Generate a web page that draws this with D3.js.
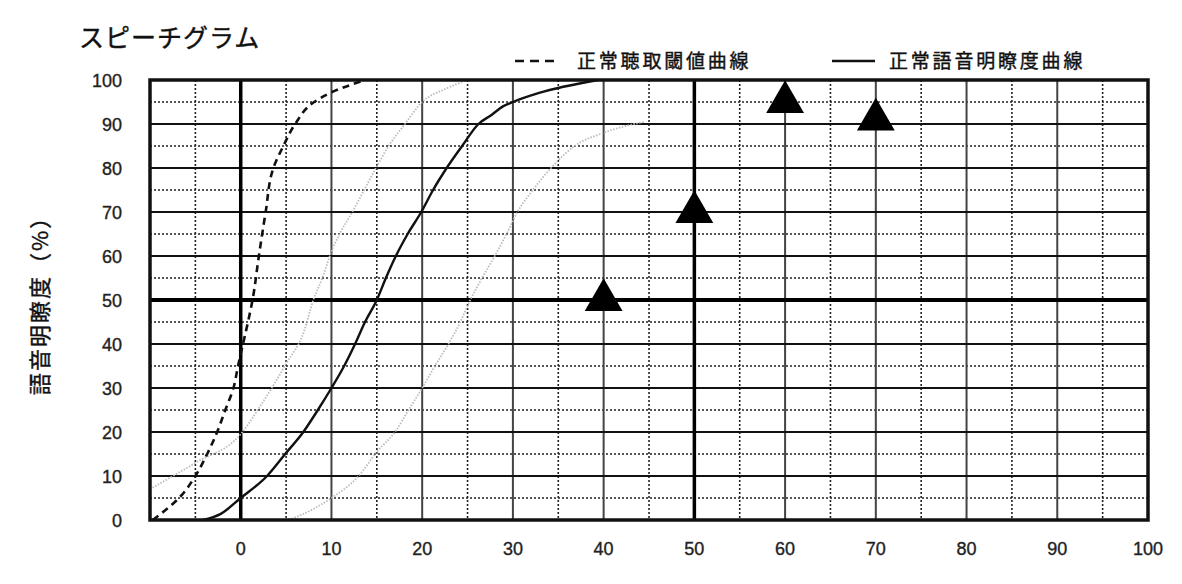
<!DOCTYPE html>
<html>
<head>
<meta charset="utf-8">
<script src="https://cdn.jsdelivr.net/npm/d3@7"></script>
<style>
  body { margin: 0; background: #fff; }
  svg { display: block; }
  .tick-label { font-family: "Liberation Sans", Arial, sans-serif; font-size: 18px; fill: #222; stroke: #222; stroke-width: 0.35px; }
  .jp { font-family: "Noto Sans CJK JP", sans-serif; fill: #111; stroke: #111; stroke-width: 0.4px; }
</style>
</head>
<body>
<div id="chart"></div>
<script>
// data
const xTicks = [0, 10, 20, 30, 40, 50, 60, 70, 80, 90, 100];
const yTicks = [0, 10, 20, 30, 40, 50, 60, 70, 80, 90, 100];
const seriesNames = ["正常聴取閾値曲線", "正常語音明瞭度曲線"];

// dashed: normal hearing threshold curve
const thresholdX = [-9.7, -6.8, -5, -3.7, -2.6, -1.7, -0.8, -0.3, 0.25, 0.8, 1.3, 2.0, 2.75, 3.6, 4.7, 6.0, 8.1, 10, 13.7];
const thresholdY = [0, 5, 10, 15, 20, 25, 30, 35, 40, 45, 50, 60, 70, 80, 85, 90, 95, 97.2, 100];

// solid: normal speech discrimination curve
const normalX = [-4.2, -2.2, 0, 2.9, 4.9, 6.9, 8.5, 10, 11.4, 12.6, 13.7, 15, 16, 17.1, 18.4, 19.9, 21.2, 22.7, 24.4, 26.2, 27.6, 28.9, 30, 32.8, 39.4];
const normalY = [0, 1.4, 5, 10, 15, 20, 25, 30, 35, 40, 45, 50, 55, 60, 65, 70, 75, 80, 85, 90, 92, 94, 95, 97, 100];

// light gray dotted curves
const grayAX = [-10, -5, 0, 2.5, 5, 7, 8, 9, 10, 10.9, 12.3, 13.6, 14.9, 16.3, 18.1, 20, 22.6, 25];
const grayAY = [7, 13, 19.5, 27, 35.5, 43, 50, 55, 61, 65, 70, 75, 80, 85, 90, 95, 98, 100];
const grayBX = [5.3, 8, 10, 13, 15, 17, 18.5, 20, 21.4, 22.9, 24.2, 25.3, 26.6, 28, 29.3, 30.5, 32.2, 34.2, 36.8, 40, 44.5];
const grayBY = [0, 2.5, 5, 10, 15.5, 20, 25, 30, 35, 40, 45, 50, 55, 60, 65, 70, 75, 80, 85, 88, 90.5];

// measured results (triangles)
const resultX = [40, 50, 60, 70];
const resultY = [50, 70, 95, 91];

const width = 1182, height = 584;
const m = { left: 150, right: 1148, top: 80, bottom: 520 };

const svg = d3.select("#chart").append("svg")
  .attr("width", width)
  .attr("height", height);

const x = d3.scaleLinear().domain([-10, 100]).range([m.left, m.right]);
const y = d3.scaleLinear().domain([0, 100]).range([m.bottom, m.top]);

// grid
const minor = d3.range(-5, 100, 10);
const minorY = d3.range(5, 100, 10);
const grid = svg.append("g");

grid.selectAll(".vminor").data(minor).enter().append("line")
  .attr("x1", d => x(d)).attr("x2", d => x(d))
  .attr("y1", y(100)).attr("y2", y(0))
  .attr("stroke", "#222").attr("stroke-width", 1.6).attr("stroke-dasharray", "2,2");
grid.selectAll(".hminor").data(minorY).enter().append("line")
  .attr("x1", x(-10)).attr("x2", x(100))
  .attr("y1", d => y(d)).attr("y2", d => y(d))
  .attr("stroke", "#222").attr("stroke-width", 1.6).attr("stroke-dasharray", "2,2");

grid.selectAll(".vmajor").data(xTicks.filter(d => d > 0 && d < 100 && d != 50)).enter().append("line")
  .attr("x1", d => x(d)).attr("x2", d => x(d))
  .attr("y1", y(100)).attr("y2", y(0))
  .attr("stroke", "#444").attr("stroke-width", 2);
grid.selectAll(".hmajor").data(yTicks.filter(d => d > 0 && d < 100 && d != 50)).enter().append("line")
  .attr("x1", x(-10)).attr("x2", x(100))
  .attr("y1", d => y(d)).attr("y2", d => y(d))
  .attr("stroke", "#111").attr("stroke-width", 2);

// heavy reference lines at 0 dB, 50 dB and 50 %
grid.selectAll(".vthick").data([0, 50]).enter().append("line")
  .attr("x1", d => x(d)).attr("x2", d => x(d))
  .attr("y1", y(100)).attr("y2", y(0))
  .attr("stroke", "#000").attr("stroke-width", 3.5);
grid.append("line")
  .attr("x1", x(-10)).attr("x2", x(100))
  .attr("y1", y(50)).attr("y2", y(50))
  .attr("stroke", "#000").attr("stroke-width", 4);

// curves
const line = d3.line()
  .x(d => x(d[0]))
  .y(d => y(d[1]))
  .curve(d3.curveMonotoneY);
const lineX = d3.line()
  .x(d => x(d[0]))
  .y(d => y(d[1]))
  .curve(d3.curveMonotoneX);

svg.append("path")
  .datum(d3.zip(grayAX, grayAY))
  .attr("d", lineX)
  .attr("fill", "none").attr("stroke", "#bbb").attr("stroke-width", 1.8).attr("stroke-dasharray", "1.5,1.5");
svg.append("path")
  .datum(d3.zip(grayBX, grayBY))
  .attr("d", lineX)
  .attr("fill", "none").attr("stroke", "#bbb").attr("stroke-width", 1.8).attr("stroke-dasharray", "1.5,1.5");

svg.append("path")
  .datum(d3.zip(thresholdX, thresholdY))
  .attr("d", line)
  .attr("fill", "none").attr("stroke", "#111").attr("stroke-width", 2.6).attr("stroke-dasharray", "7,5");
svg.append("path")
  .datum(d3.zip(normalX, normalY))
  .attr("d", lineX)
  .attr("fill", "none").attr("stroke", "#111").attr("stroke-width", 2.4);

// outer frame
svg.append("rect")
  .attr("x", x(-10)).attr("y", y(100))
  .attr("width", x(100) - x(-10)).attr("height", y(0) - y(100))
  .attr("fill", "none").attr("stroke", "#111").attr("stroke-width", 3.5);

// triangles
svg.selectAll(".tri").data(d3.zip(resultX, resultY)).enter().append("path")
  .attr("d", d3.symbol(d3.symbolTriangle, 620))
  .attr("transform", d => `translate(${x(d[0])},${y(d[1])})`)
  .attr("fill", "#000");

// tick labels
svg.selectAll(".xl").data(xTicks).enter().append("text")
  .attr("class", "tick-label")
  .attr("x", d => x(d)).attr("y", 555)
  .attr("text-anchor", "middle")
  .text(d => d);
svg.selectAll(".yl").data(yTicks).enter().append("text")
  .attr("class", "tick-label")
  .attr("x", 122).attr("y", d => y(d) + 7)
  .attr("text-anchor", "end")
  .text(d => d);

// title
svg.append("text").attr("class", "jp")
  .attr("x", 79).attr("y", 47)
  .attr("font-size", 25)
  .attr("letter-spacing", 1)
  .text("スピーチグラム");

// y axis title
svg.append("text").attr("class", "jp")
  .attr("transform", `translate(48,${(m.top + m.bottom) / 2}) rotate(-90)`)
  .attr("text-anchor", "middle")
  .attr("font-size", 22)
  .attr("letter-spacing", 2)
  .text("語音明瞭度（%）");

// legend
const legend = svg.append("g");
legend.append("line")
  .attr("x1", 515).attr("x2", 557).attr("y1", 61).attr("y2", 61)
  .attr("stroke", "#111").attr("stroke-width", 2.6).attr("stroke-dasharray", "9,6");
legend.append("text").attr("class", "jp")
  .attr("x", 577).attr("y", 68).attr("font-size", 19)
  .attr("letter-spacing", 2.8)
  .text(seriesNames[0]);
legend.append("line")
  .attr("x1", 832).attr("x2", 875).attr("y1", 61).attr("y2", 61)
  .attr("stroke", "#111").attr("stroke-width", 2.6);
legend.append("text").attr("class", "jp")
  .attr("x", 889).attr("y", 68).attr("font-size", 19)
  .attr("letter-spacing", 2.8)
  .text(seriesNames[1]);
</script>
</body>
</html>
